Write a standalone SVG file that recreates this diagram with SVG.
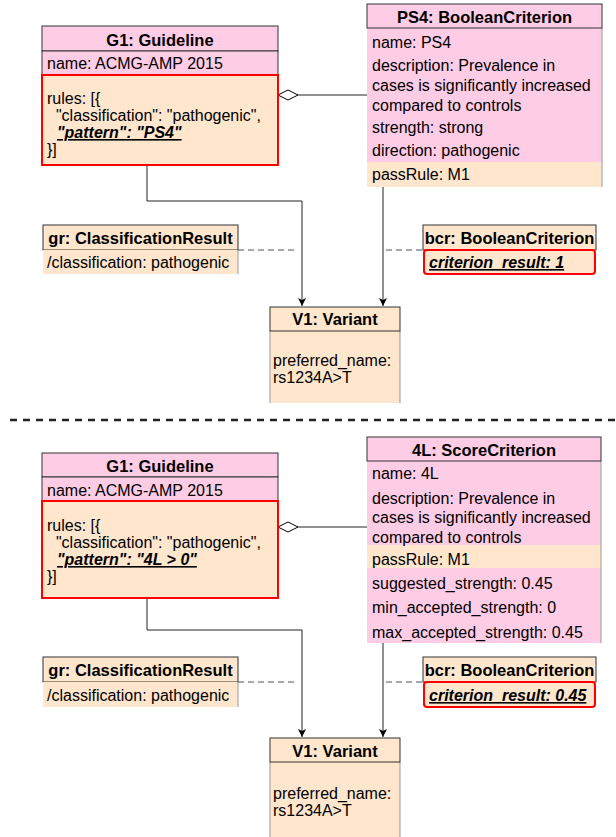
<svg xmlns="http://www.w3.org/2000/svg" width="616" height="837" viewBox="0 0 616 837">
<style>
text{font-family:"Liberation Sans",Arial,sans-serif;font-size:16px;fill:#000}
.h{text-anchor:middle;font-weight:bold;font-size:16.5px}
.em{font-weight:bold;font-style:italic;text-decoration:underline}
.hd{stroke:#333;stroke-width:1}
.pk{fill:#FFCCE6}
.or{fill:#FFE6CC}
.red{fill:#FFE6CC;stroke:#FF0000;stroke-width:2}
.side{stroke:#999;stroke-width:1;fill:none}
.con{fill:none;stroke:#222;stroke-width:1}
.dash{fill:none;stroke:#555;stroke-width:1;stroke-dasharray:6 4}
</style>
<defs>
<marker id="arr" markerWidth="10" markerHeight="10" refX="9" refY="5" orient="auto" markerUnits="userSpaceOnUse">
<path d="M1,1 L9,5 L1,9 L3,5 Z" fill="#000"/>
</marker>
</defs>
<g id="connectors">
<polyline class="con" points="147,165 147,201 302,201 302,306" marker-end="url(#arr)"/>
<line class="con" x1="383" y1="187" x2="383" y2="306" marker-end="url(#arr)"/>
<line class="con" x1="298" y1="95" x2="367" y2="95"/>
<path d="M278,95 L288,90 L298,95 L288,100 Z" fill="#fff" stroke="#000" stroke-width="1"/>
<line class="dash" x1="238" y1="250" x2="298" y2="250"/>
<line class="dash" x1="386" y1="250" x2="423" y2="250"/>
<line x1="10" y1="420" x2="616" y2="420" stroke="#222" stroke-width="2.5" stroke-dasharray="7 6"/>
<polyline class="con" points="147,598 147,630 302,630 302,737" marker-end="url(#arr)"/>
<line class="con" x1="383" y1="643" x2="383" y2="737" marker-end="url(#arr)"/>
<line class="con" x1="298" y1="527" x2="367" y2="527"/>
<path d="M278,527 L288,522 L298,527 L288,532 Z" fill="#fff" stroke="#000" stroke-width="1"/>
<line class="dash" x1="238" y1="682" x2="298" y2="682"/>
<line class="dash" x1="386" y1="682" x2="423" y2="682"/>
</g>
<g id="g1-top">
<rect class="pk hd" x="42" y="26" width="236" height="25"/>
<text class="h" x="160" y="46">G1: Guideline</text>
<rect class="pk hd" x="42" y="51" width="236" height="24"/>
<text x="47" y="69">name: ACMG-AMP 2015</text>
<rect class="red" x="42" y="75" width="236" height="90"/>
<text x="47" y="104">rules: [{</text>
<text x="47" y="121" xml:space="preserve">  "classification": "pathogenic",</text>
<text class="em" x="57" y="138">"pattern": "PS4"</text>
<text x="47" y="155">}]</text>
</g>
<g id="ps4">
<rect class="pk" x="367" y="28" width="235" height="134"/>
<rect class="or" x="367" y="162" width="235" height="25"/>
<line class="side" x1="602" y1="28" x2="602" y2="187"/>
<rect class="pk hd" x="367" y="4" width="235" height="24"/>
<text class="h" x="484.5" y="23">PS4: BooleanCriterion</text>
<text x="372" y="48">name: PS4</text>
<text x="372" y="71">description: Prevalence in</text>
<text x="372" y="91">cases is significantly increased</text>
<text x="372" y="111">compared to controls</text>
<text x="372" y="133">strength: strong</text>
<text x="372" y="156">direction: pathogenic</text>
<text x="372" y="180">passRule: M1</text>
</g>
<g id="gr-top">
<rect class="or hd" x="43" y="225" width="195" height="25"/>
<text class="h" x="140.5" y="244">gr: ClassificationResult</text>
<rect class="or" x="43" y="250" width="195" height="24"/>
<line class="side" x1="238" y1="250" x2="238" y2="274"/>
<text x="47" y="268">/classification: pathogenic</text>
</g>
<g id="bcr-top">
<rect class="or hd" x="423" y="225" width="173" height="25"/>
<text class="h" x="509.5" y="244">bcr: BooleanCriterion</text>
<rect class="red" x="424" y="250" width="171" height="24" rx="3"/>
<text class="em" x="429" y="268">criterion_result: 1</text>
</g>
<g id="v1-top">
<rect class="or" x="270" y="331" width="130" height="72"/>
<polyline class="side" points="270,331 270,403"/>
<polyline class="side" points="400,331 400,403"/>
<rect class="or hd" x="270" y="307" width="130" height="24"/>
<text class="h" x="335" y="325">V1: Variant</text>
<text x="273" y="366">preferred_name:</text>
<text x="273" y="383">rs1234A&gt;T</text>
</g>
<g id="g1-bottom">
<rect class="pk hd" x="42" y="453" width="236" height="24"/>
<text class="h" x="160" y="472">G1: Guideline</text>
<rect class="pk hd" x="42" y="477" width="236" height="24"/>
<text x="47" y="496">name: ACMG-AMP 2015</text>
<rect class="red" x="42" y="501" width="236" height="97"/>
<text x="47" y="531">rules: [{</text>
<text x="47" y="548" xml:space="preserve">  "classification": "pathogenic",</text>
<text class="em" x="57" y="565">"pattern": "4L &gt; 0"</text>
<text x="47" y="582">}]</text>
</g>
<g id="sc-4l">
<rect class="pk" x="367" y="461" width="234" height="84"/>
<rect class="or" x="367" y="545" width="234" height="23"/>
<rect class="pk" x="367" y="568" width="234" height="75"/>
<line class="side" x1="601" y1="461" x2="601" y2="643"/>
<rect class="pk hd" x="367" y="437" width="234" height="24"/>
<text class="h" x="484" y="456">4L: ScoreCriterion</text>
<text x="372" y="479">name: 4L</text>
<text x="372" y="504">description: Prevalence in</text>
<text x="372" y="523">cases is significantly increased</text>
<text x="372" y="543">compared to controls</text>
<text x="372" y="565">passRule: M1</text>
<text x="372" y="589">suggested_strength: 0.45</text>
<text x="372" y="613">min_accepted_strength: 0</text>
<text x="372" y="638">max_accepted_strength: 0.45</text>
</g>
<g id="gr-bottom">
<rect class="or hd" x="43" y="657" width="195" height="25"/>
<text class="h" x="140.5" y="676">gr: ClassificationResult</text>
<rect class="or" x="43" y="682" width="195" height="25"/>
<line class="side" x1="238" y1="682" x2="238" y2="707"/>
<text x="47" y="701">/classification: pathogenic</text>
</g>
<g id="bcr-bottom">
<rect class="or hd" x="423" y="657" width="173" height="25"/>
<text class="h" x="509.5" y="676">bcr: BooleanCriterion</text>
<rect class="red" x="424" y="682" width="171" height="25" rx="3"/>
<text class="em" x="429" y="701">criterion_result: 0.45</text>
</g>
<g id="v1-bottom">
<rect class="or" x="270" y="762" width="130" height="75"/>
<polyline class="side" points="270,762 270,837"/>
<polyline class="side" points="400,762 400,837"/>
<rect class="or hd" x="270" y="738" width="130" height="24"/>
<text class="h" x="335" y="757">V1: Variant</text>
<text x="273" y="799">preferred_name:</text>
<text x="273" y="816">rs1234A&gt;T</text>
</g>
</svg>
